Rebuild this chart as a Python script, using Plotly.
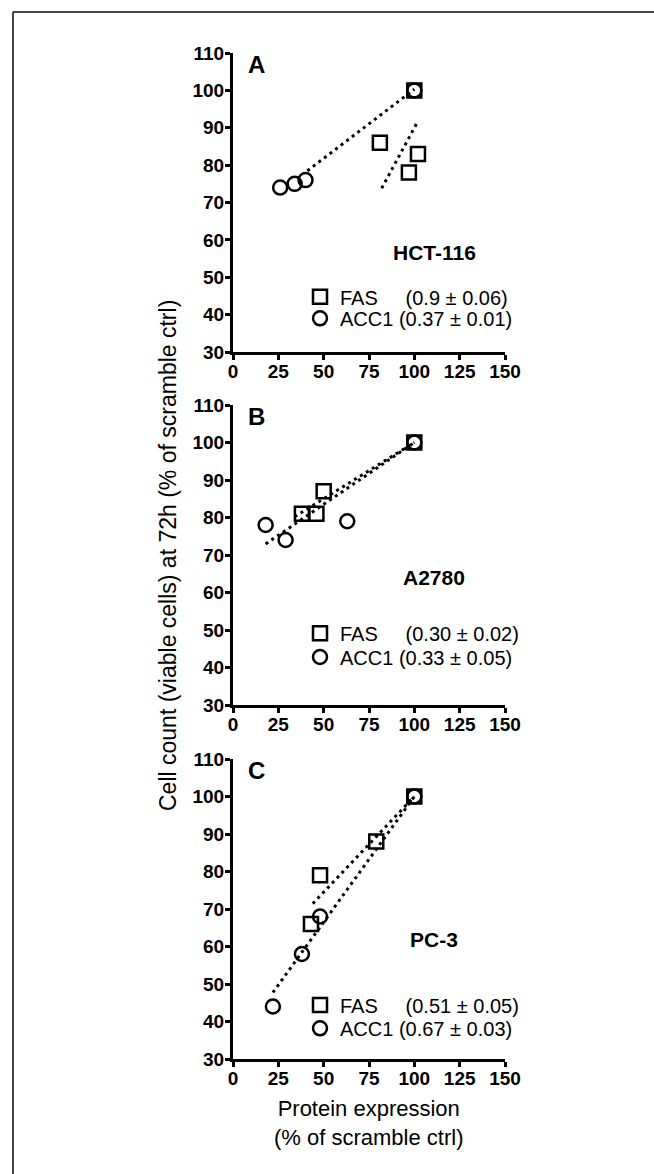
import plotly.graph_objects as go

W, H = 654, 1174

panel_letters = ["A", "B", "C"]
cell_lines = ["HCT-116", "A2780", "PC-3"]

# Data points (protein expression %, cell count %)
fas_x = [[100, 81, 97, 102], [100, 38, 46, 50], [100, 79, 48, 43]]
fas_y = [[100, 86, 78, 83], [100, 81, 81, 87], [100, 88, 79, 66]]
acc_x = [[100, 26, 34, 40], [100, 18, 29, 63], [100, 48, 38, 22]]
acc_y = [[100, 74, 75, 76], [100, 78, 74, 79], [100, 68, 58, 44]]

# Regression slopes (as printed), SE, intercepts and fitted x ranges
fas_slope = ["0.9", "0.30", "0.51"]
fas_se = ["0.06", "0.02", "0.05"]
fas_icpt = [0.0, 70.0, 49.0]
fas_xrange = [[82, 102], [34, 100], [44, 100]]

acc_slope = ["0.37", "0.33", "0.67"]
acc_se = ["0.01", "0.05", "0.03"]
acc_icpt = [63.3, 67.0, 33.0]
acc_xrange = [[41, 100], [18, 100], [22, 100]]

x_ticks = [0, 25, 50, 75, 100, 125, 150]
y_ticks = [30, 40, 50, 60, 70, 80, 90, 100, 110]

FONT = "Liberation Sans, Arial, sans-serif"

# layout geometry (pixels)
x_left, x_right = 233, 505
panel_px = [(53, 352), (405, 705), (759, 1059)]
label_y = [56.5, 64, 62]
legend_rows_px = [(296.7, 318.3), (633.3, 657.0), (1005, 1028.3)]

fig = go.Figure()

nbsp = "\u00a0"
for i in range(3):
    ax = "" if i == 0 else str(i + 1)
    xref, yref = "x" + ax, "y" + ax
    lf = "legend" if i == 0 else "legend" + str(2 * i + 1)
    la = "legend" + str(2 * i + 2)
    # trend lines
    for slope, icpt, xr in ((fas_slope[i], fas_icpt[i], fas_xrange[i]),
                            (acc_slope[i], acc_icpt[i], acc_xrange[i])):
        s = float(slope)
        fig.add_trace(go.Scatter(
            x=xr, y=[s * v + icpt for v in xr], mode="lines",
            line=dict(color="black", width=3, dash="3px,4px"),
            showlegend=False, hoverinfo="skip", xaxis=xref, yaxis=yref))
    fig.add_trace(go.Scatter(
        x=fas_x[i], y=fas_y[i], mode="markers",
        marker=dict(symbol="square-open", size=14, color="black",
                    line=dict(width=2.5, color="black")),
        name="FAS" + nbsp * 5 + "(" + fas_slope[i] + " ± " + fas_se[i] + ")",
        legend=lf, xaxis=xref, yaxis=yref, cliponaxis=False))
    fig.add_trace(go.Scatter(
        x=acc_x[i], y=acc_y[i], mode="markers",
        marker=dict(symbol="circle-open", size=14, color="black",
                    line=dict(width=2.5, color="black")),
        name="ACC1 (" + acc_slope[i] + " ± " + acc_se[i] + ")",
        legend=la, xaxis=xref, yaxis=yref, cliponaxis=False))

layout = dict(
    width=W, height=H, autosize=False,
    margin=dict(l=0, r=0, t=0, b=0),
    paper_bgcolor="white", plot_bgcolor="white",
    font=dict(family=FONT, color="black"),
    showlegend=True,
)

axis_common = dict(showgrid=False, zeroline=False, showline=True,
                   linecolor="black", linewidth=3, ticks="outside",
                   ticklen=5, tickwidth=3, tickcolor="black",
                   tickfont=dict(family=FONT, size=19, color="black", weight="bold"),
                   automargin=False, fixedrange=True)

for i in range(3):
    ax = "" if i == 0 else str(i + 1)
    top, bot = panel_px[i]
    layout["xaxis" + ax] = dict(
        axis_common, domain=[x_left / W, x_right / W], range=[0, 150],
        tickvals=x_ticks, anchor="y" + ax, ticklabelstandoff=-5)
    layout["yaxis" + ax] = dict(
        axis_common, domain=[1 - bot / H, 1 - top / H], range=[30, 110],
        tickvals=y_ticks, anchor="x" + ax, ticklabelstandoff=-3)
    for j in range(2):
        key = "legend" if (i == 0 and j == 0) else "legend" + str(2 * i + j + 1)
        layout[key] = dict(
            x=300 / W, y=1 - legend_rows_px[i][j] / H,
            xanchor="left", yanchor="middle",
            bgcolor="rgba(0,0,0,0)", borderwidth=0,
            font=dict(family=FONT, size=20, color="black"),
            itemwidth=30)

fig.update_layout(**layout)

annotations = []
for i in range(3):
    ax = "" if i == 0 else str(i + 1)
    annotations.append(dict(
        x=13, y=107, xref="x" + ax, yref="y" + ax, text=panel_letters[i],
        showarrow=False, xanchor="center", yanchor="middle",
        font=dict(family=FONT, size=24, color="black", weight="bold")))
    annotations.append(dict(
        x=111, y=label_y[i], xref="x" + ax, yref="y" + ax, text=cell_lines[i],
        showarrow=False, xanchor="center", yanchor="middle",
        font=dict(family=FONT, size=21, color="black", weight="bold")))

annotations.append(dict(
    x=168 / W, y=1 - 556 / H, xref="paper", yref="paper",
    text="Cell count (viable cells) at 72h (% of scramble ctrl)",
    textangle=-90, showarrow=False, xanchor="center", yanchor="middle",
    font=dict(family=FONT, size=23, color="black")))
annotations.append(dict(
    x=369 / W, y=1 - 1122.5 / H, xref="paper", yref="paper",
    text="Protein expression<br>(% of scramble ctrl)",
    showarrow=False, xanchor="center", yanchor="middle",
    font=dict(family=FONT, size=22, color="black")))

fig.update_layout(annotations=annotations)

# outer frame (left and top edges)
fig.add_shape(type="line", xref="paper", yref="paper",
              x0=13 / W, x1=13 / W, y0=0, y1=1 - 12 / H,
              line=dict(color="#444444", width=2))
fig.add_shape(type="line", xref="paper", yref="paper",
              x0=13 / W, x1=1, y0=1 - 12 / H, y1=1 - 12 / H,
              line=dict(color="#444444", width=2))

fig.write_html(
    "out.html",
    config={"displayModeBar": False, "staticPlot": True},
    post_script="document.body.style.margin='0';document.body.style.overflow='hidden';")
